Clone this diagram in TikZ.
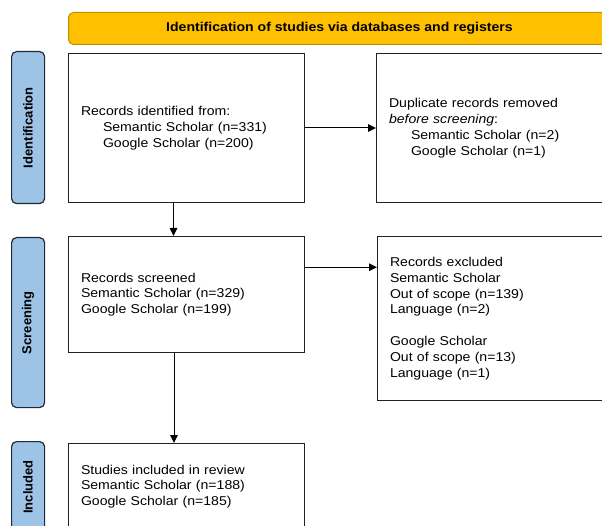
\documentclass[tikz,border=0pt]{standalone}
\usepackage{fontspec}
\setmainfont{Liberation Sans}[FakeStretch=1.1]
\newfontfamily\sidefont{Liberation Sans}[FakeStretch=1.0]
\usetikzlibrary{arrows.meta,calc}
\definecolor{bannerfill}{HTML}{FFC000}
\definecolor{bannerline}{HTML}{BF9000}
\definecolor{sidefill}{HTML}{9DC3E6}
\definecolor{sideline}{HTML}{1F2A38}
\definecolor{boxline}{HTML}{222222}
\tikzset{
  every node/.style={font=\fontsize{12.8}{15.8}\selectfont},
  box/.style={draw=boxline, line width=1pt, fill=white, anchor=north west,
    minimum width=236pt, text width=211pt, inner xsep=12.5pt, align=left},
  sidebox/.style={draw=sideline, line width=1.2pt, fill=sidefill, rounded corners=5pt,
    anchor=north west, minimum width=33pt, inner sep=0pt},
  sidetext/.style={font=\sidefont\bfseries\fontsize{13}{15}\selectfont, rotate=90},
  arr/.style={draw=black, line width=1pt, -{Triangle[length=8pt,width=7.5pt]}}
}
\begin{document}
\begin{tikzpicture}[x=1pt,y=-1pt]
\useasboundingbox (0,0) rectangle (602,526);
\clip (0,0) rectangle (602,526);
% banner
\node[draw=bannerline, line width=1pt, fill=bannerfill, rounded corners=5pt,
  minimum width=542pt, minimum height=32pt, anchor=north west,
  font=\bfseries\fontsize{12.8}{15}\selectfont] (banner) at (68,12)
  {Identification of studies via databases and registers};
% side labels
\node[sidebox, minimum height=152pt] (sid) at (11,51) {};
\node[sidetext] (sidt) at (sid.center) {Identification};
\node[sidebox, minimum height=170pt] (sscr) at (11,237) {};
\node[sidetext] (sscrt) at (sscr.center) {Screening};
\node[sidebox, minimum height=92pt] (sinc) at (11,441) {};
\node[sidetext] (sinct) at (28,487) {Included};
% boxes
\node[box, minimum height=149pt] (b1) at (68,53)
  {Records identified from:\\
   \hspace*{22pt}Semantic Scholar (n=331)\\
   \hspace*{22pt}Google Scholar (n=200)};
\node[box, minimum height=149pt] (b2) at (376,53)
  {Duplicate records removed\\
   \textit{before screening}:\\
   \hspace*{22pt}Semantic Scholar (n=2)\\
   \hspace*{22pt}Google Scholar (n=1)};
\node[box, minimum height=116pt] (b3) at (68,236)
  {Records screened\\
   Semantic Scholar (n=329)\\
   Google Scholar (n=199)};
\node[box, minimum height=164pt] (b4) at (377,236)
  {Records excluded\\
   Semantic Scholar\\
   Out of scope (n=139)\\
   Language (n=2)\\[15.8pt]
   Google Scholar\\
   Out of scope (n=13)\\
   Language (n=1)};
\node[box, minimum height=86pt] (b5) at (68,443)
  {Studies included in review\\
   Semantic Scholar (n=188)\\
   Google Scholar (n=185)};
% connectors
\draw[arr] (b1.east) -- (b2.west);
\coordinate (c3) at ($(b3.north east)!0.267!(b3.south east)$);
\draw[arr] (c3) -- (c3 -| b4.west);
\draw[arr] ([xshift=105.5pt]b1.south west) -- ([xshift=105.5pt]b3.north west);
\draw[arr] ([xshift=106pt]b3.south west) -- ([xshift=106pt]b5.north west);
\end{tikzpicture}
\end{document}
